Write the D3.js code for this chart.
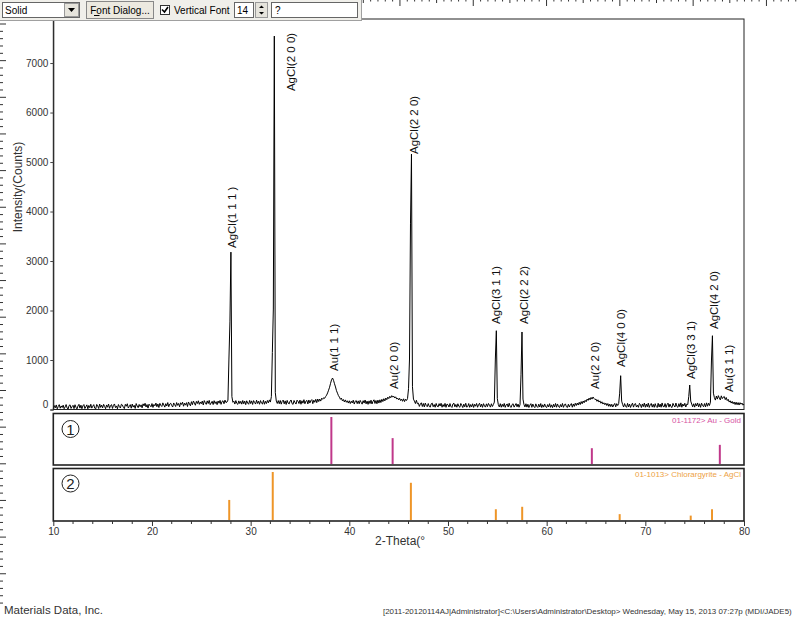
<!DOCTYPE html>
<html><head><meta charset="utf-8">
<script src="https://cdn.jsdelivr.net/npm/d3@7"></script>
<style>
body{margin:0;background:#fff;overflow:hidden;}
svg{display:block;font-family:"Liberation Sans",Arial,sans-serif;}
</style></head><body>
<svg id="chart" width="800" height="617"></svg>
<script>
// ---------------- DATA ----------------
const thetaStart = 10, thetaStep = 0.1;
// measured intensity (counts), one value every 0.1 deg from 10.0 to 80.0
const counts = [
 20, 78, 34, 92, 14, 60, 98, 26, 72, 40,   // 10
 88, 16, 52,100, 30, 10, 80, 94, 22, 58,   // 11
 84, 18, 96, 44, 12, 70,104, 28, 88, 16,   // 12
 74,100, 20, 56, 94, 14, 82, 36,106, 28,   // 13
 66, 98, 26, 12,102, 74, 20,110, 42, 88,   // 14
 32,104, 62, 16, 92, 46,110, 24, 80, 98,   // 15
 22, 86,112, 38, 72, 14,100, 58, 30,106,   // 16
 92, 44, 18,104, 66,116, 30, 60, 98, 26,   // 17
110, 48, 84, 22,120, 70, 36,102, 56, 94,   // 18
 34,114, 72,126, 50,100, 28,108, 80, 54,   // 19
120, 42,102, 74,130, 56,112, 40,124, 82,   // 20
 60,134, 92, 48,118, 70,140, 56,110,126,   // 21
 80, 50,132, 98, 60,140, 84,122, 54,136,   // 22
102,148, 66,128, 88,138, 60,152,112, 74,   // 23
158, 98,172,130, 86,164,120,176,104,152,   // 24
116,170, 92,180,138,104,174,120,184, 98,   // 25
132,166,100,178,120,158, 98,172,126,184,   // 26
104,162,176,116,190,140,150,190,1020,1770, // 27
3180,260,146,168,110,180,122,104,174,120,  // 28
166,108,182,116,170, 98,176,130,106,184,   // 29
120,174,102,180,142,110,188,122,168,106,   // 30
180,128,110,186,106,166,120,182,134,194,   // 31
150,260,1150,2030,7545,340,170,122,180,116,// 32
182,108,166,190,114,174,102,184,130,112,   // 33
170,192,118,104,182,140,110,188,166,120,   // 34
190,106,176,128,198,116,168,184,112,192,   // 35
130,180,200,118,188,146,206,138,212,160,   // 36
210,170,228,206,238,226,262,290,335,390,   // 37
450,530,600,636,590,520,455,380,330,280,   // 38
250,206,230,175,202,152,194,146,176,130,   // 39
176,120,168,132,188,110,166,180,118,174,   // 40
116,184,146,108,178,130,192,114,170,104,   // 41
174,120,188,112,166,196,122,182,116,190,   // 42
130,196,140,206,160,218,174,232,198,250,   // 43
220,266,238,280,250,270,232,256,210,232,   // 44
194,226,180,210,166,216,160,208,182,220,   // 45
420,1020,3750,5160,460,210,170,120,186,116,// 46
128, 62,110,136, 60,122, 52,130, 80, 56,   // 47
120, 62, 48,114,130, 56,100, 46,122, 68,   // 48
 52,118, 70,126, 46,100, 58,124, 44,110,   // 49
 96, 50,120, 62, 42,112,128, 54,102, 46,   // 50
116, 64, 46,122, 82, 40,108, 54,126, 48,   // 51
 60,120, 44,100, 54,116, 42,106, 66,122,   // 52
 46, 98,126, 52,110, 44,118, 70, 48,114,   // 53
 58,122, 86, 48,116, 60,100,150,1020,1592, // 54
220,100, 52,118, 46,106, 58,122, 44, 96,   // 55
112, 50,126, 60, 42,100,116, 48, 84,120,   // 56
 54,110, 46, 96,700,1566,210,100, 52,116,  // 57
 48,106, 40, 88,118, 44,110, 58, 38,114,   // 58
 62, 42,108, 50,120, 40, 96, 48,112, 56,   // 59
 40,100, 52,118, 44, 94, 38,106, 50,122,   // 60
 46,112, 60, 40,100, 52,122, 44, 92,114,   // 61
 56, 40,106, 50, 98,120, 46,112, 62,126,   // 62
 80,130, 90,146,100,160,116,172,136,186,   // 63
156,210,184,230,196,244,210,253,222,200,   // 64
210,166,196,150,174,126,156,110,136, 96,   // 65
128, 80,120, 64,110, 58,106, 50, 94,122,   // 66
 54,118, 80,120,330,683,170,100, 50,120,   // 67
 64, 44,124, 52,110, 42, 92,128, 48,106,   // 68
120, 50, 88, 44,124,100, 40,112, 58,130,   // 69
 46,110, 54,128, 42, 96,122, 48,106, 44,   // 70
118, 60, 40,126, 50,110, 46,132, 62, 52,   // 71
120, 42, 98,128, 48,110, 58, 40,124, 80,   // 72
 50,130, 62, 44,118, 56,134, 46,110, 70,   // 73
126, 50,108,100,260,495,170,110, 54,116,   // 74
 48,122, 70,132, 54,116, 44,128, 80, 56,   // 75
120, 52,134, 66,126, 80,150,980,1491,330,  // 76
240,190,272,210,280,230,194,276,220,250,   // 77
262,200,242,180,206,150,176,130,164,116,   // 78
152,100,148, 96,140, 90,138,106,130, 88,   // 79
110                                        // 80
];

// reference stick patterns
const auTheta = [38.18, 44.39, 64.58, 77.55];
const auRel   = [100, 56, 35, 42];
const agclTheta = [27.83, 32.24, 46.24, 54.85, 57.52, 67.40, 74.60, 76.76];
const agclRel   = [43, 100, 78, 24, 29, 14, 11, 24];

// peak annotations (text, anchor 2-theta, anchor counts)
const peakText   = ["AgCl(1 1 1 )","AgCl(2 0 0)","Au(1 1 1)","Au(2 0 0)","AgCl(2 2 0)","AgCl(3 1 1)","AgCl(2 2 2)","Au(2 2 0)","AgCl(4 0 0)","AgCl(3 3 1)","AgCl(4 2 0)","Au(3 1 1)"];
const peakTheta  = [28.54, 34.50, 38.85, 44.94, 46.96, 55.27, 58.10, 65.27, 67.94, 75.03, 77.37, 78.89];
const peakCounts = [3263, 6434, 778, 414, 5162, 1727, 1727, 414, 859, 616, 1626, 354];

const yTicks = [0, 1000, 2000, 3000, 4000, 5000, 6000, 7000];
const xTicks = [10, 20, 30, 40, 50, 60, 70, 80];
const xMinorTicks = [12, 14, 16, 18, 22, 24, 26, 28, 32, 34, 36, 38, 42, 44, 46, 48, 52, 54, 56, 58, 62, 64, 66, 68, 72, 74, 76, 78];

// ---------------- DRAW ----------------
const svg = d3.select("#chart");
const L = 53.3, R = 744;
const x = d3.scaleLinear().domain([10, 80]).range([L, R]);
const y = d3.scaleLinear().domain([0, 7900]).range([409.5, 18.5]);

const pts = counts.map((c, i) => [thetaStart + i * thetaStep, c]);

// main frame
svg.append("rect").attr("x", L).attr("y", 19).attr("width", R - L).attr("height", 390.5)
  .attr("fill", "none").attr("stroke", "#222").attr("stroke-width", 1);

// trace
svg.append("path").datum(pts)
  .attr("d", d3.line().x(d => x(d[0])).y(d => y(d[1])))
  .attr("fill", "none").attr("stroke", "#000").attr("stroke-width", 1);

// y axis
const yAx = svg.append("g").attr("transform", `translate(${L},0)`)
  .call(d3.axisLeft(y).tickValues(yTicks).tickSize(3).tickPadding(2).tickFormat(d3.format("d")));
yAx.select(".domain").attr("stroke", "#222");
yAx.selectAll(".tick line").attr("stroke", "#444");
yAx.selectAll(".tick text").attr("font-size", 10).attr("fill", "#333")
  .attr("font-family", "Liberation Sans, Arial, sans-serif")
  .attr("dy", d => d === 0 ? "-0.25em" : "0.32em");

svg.append("text").attr("transform", "translate(22,187) rotate(-90)")
  .attr("text-anchor", "middle").attr("font-size", 12).attr("fill", "#333")
  .text("Intensity(Counts)");

// peak labels
svg.append("g").selectAll("text").data(peakText).join("text")
  .attr("transform", (d, i) => `translate(${x(peakTheta[i])},${y(peakCounts[i])}) rotate(-90)`)
  .attr("font-size", 11.5).attr("fill", "#111")
  .text(d => d);

// stick panels
const p1 = {top: 413.5, bottom: 465};
const p2 = {top: 468.5, bottom: 521};
[p1, p2].forEach(p => {
  svg.append("rect").attr("x", L).attr("y", p.top).attr("width", R - L).attr("height", p.bottom - p.top)
    .attr("fill", "#fff").attr("stroke", "#222").attr("stroke-width", 1.6);
});
const h1 = d3.scaleLinear().domain([0, 100]).range([p1.bottom, p1.bottom - 48]);
const h2 = d3.scaleLinear().domain([0, 100]).range([p2.bottom, p2.bottom - 49]);
svg.append("g").selectAll("line").data(auTheta).join("line")
  .attr("x1", d => x(d)).attr("x2", d => x(d))
  .attr("y1", p1.bottom - 1).attr("y2", (d, i) => h1(auRel[i]))
  .attr("stroke", "#c0388a").attr("stroke-width", 2);
svg.append("g").selectAll("line").data(agclTheta).join("line")
  .attr("x1", d => x(d)).attr("x2", d => x(d))
  .attr("y1", p2.bottom - 1).attr("y2", (d, i) => h2(agclRel[i]))
  .attr("stroke", "#ee9528").attr("stroke-width", 2);

svg.append("text").attr("x", 741).attr("y", 423).attr("text-anchor", "end")
  .attr("font-size", 8).attr("fill", "#d653a4").text("01-1172> Au - Gold");
svg.append("text").attr("x", 741).attr("y", 477).attr("text-anchor", "end")
  .attr("font-size", 8).attr("fill", "#eda245").text("01-1013> Chlorargyrite - AgCl");

[[429, "1"], [483.5, "2"]].forEach(([cy, t]) => {
  svg.append("circle").attr("cx", 70.5).attr("cy", cy).attr("r", 8.5)
    .attr("fill", "none").attr("stroke", "#222").attr("stroke-width", 1);
  svg.append("text").attr("x", 70.5).attr("y", cy + 5.5).attr("text-anchor", "middle")
    .attr("font-size", 15).attr("fill", "#222").text(t);
});

// x axis
const xAx = svg.append("g").attr("transform", `translate(0,${p2.bottom})`)
  .call(d3.axisBottom(x).tickValues(xTicks).tickSize(5).tickPadding(2).tickFormat(d3.format("d")));
xAx.select(".domain").remove();
xAx.selectAll(".tick line").attr("stroke", "#333");
xAx.selectAll(".tick text").attr("font-size", 10).attr("fill", "#333")
  .attr("font-family", "Liberation Sans, Arial, sans-serif");
svg.append("g").selectAll("line").data(xMinorTicks).join("line")
  .attr("x1", d => x(d)).attr("x2", d => x(d)).attr("y1", p2.bottom).attr("y2", p2.bottom + 3)
  .attr("stroke", "#333");
svg.append("text").attr("x", 375).attr("y", 545).attr("font-size", 12).attr("fill", "#333")
  .text("2-Theta(°");

// footer
svg.append("text").attr("x", 4).attr("y", 614).attr("font-size", 11.5).attr("fill", "#333")
  .text("Materials Data, Inc.");
svg.append("text").attr("x", 383).attr("y", 614).attr("font-size", 7.95).attr("fill", "#333")
  .text("[2011-20120114AJ|Administrator]<C:\\Users\\Administrator\\Desktop> Wednesday, May 15, 2013 07:27p (MDI/JADE5)");

// rulers
const rul = svg.append("g").attr("stroke", "#333").attr("stroke-width", 1);
d3.range(0, 60).forEach(k => {
  const xx = 363.3 + k * 7.33;
  const len = (k % 10 === 0) ? 3 : (k % 5 === 0 ? 6 : 1.5);
  rul.append("line").attr("x1", xx).attr("x2", xx).attr("y1", 0).attr("y2", len);
});
d3.range(0, 80).forEach(k => {
  const yy = 24 + k * 7.33;
  const len = (k % 5 === 0) ? 6 : 3;
  rul.append("line").attr("x1", 0).attr("x2", len).attr("y1", yy).attr("y2", yy);
});

// toolbar
const tb = svg.append("g").attr("font-size", 10).attr("fill", "#000");
tb.append("rect").attr("x", 0).attr("y", 0).attr("width", 362).attr("height", 21).attr("fill", "#f0efea");
tb.append("line").attr("x1", 0).attr("x2", 362).attr("y1", 20.5).attr("y2", 20.5).attr("stroke", "#a0a0a0");
tb.append("line").attr("x1", 361.5).attr("x2", 361.5).attr("y1", 0).attr("y2", 21).attr("stroke", "#a0a0a0");
// combo
tb.append("rect").attr("x", 2.5).attr("y", 2.5).attr("width", 77).attr("height", 15).attr("fill", "#fff").attr("stroke", "#666");
tb.append("text").attr("x", 5).attr("y", 14).text("Solid");
tb.append("rect").attr("x", 64.5).attr("y", 3.5).attr("width", 14).attr("height", 13).attr("fill", "#e6e4dc").attr("stroke", "#999");
tb.append("path").attr("d", "M68,8 L75,8 L71.5,12 Z").attr("fill", "#000");
// button
tb.append("rect").attr("x", 86.5).attr("y", 1.5).attr("width", 67).attr("height", 17).attr("fill", "#ece9e0").attr("stroke", "#888");
tb.append("text").attr("x", 120).attr("y", 14).attr("text-anchor", "middle").text("Font Dialog...");
tb.append("line").attr("x1", 94).attr("x2", 99.5).attr("y1", 15.5).attr("y2", 15.5).attr("stroke", "#000");
// checkbox
tb.append("rect").attr("x", 160.5).attr("y", 5.5).attr("width", 9).attr("height", 9).attr("fill", "#fff").attr("stroke", "#333");
tb.append("path").attr("d", "M162,9.5 L164.5,12 L168,7").attr("fill", "none").attr("stroke", "#000").attr("stroke-width", 1.6);
tb.append("text").attr("x", 174).attr("y", 14).text("Vertical Font");
// spin
tb.append("rect").attr("x", 234.5).attr("y", 2.5).attr("width", 19).attr("height", 15).attr("fill", "#fff").attr("stroke", "#666");
tb.append("text").attr("x", 237).attr("y", 14).text("14");
tb.append("rect").attr("x", 255.5).attr("y", 2.5).attr("width", 12).attr("height", 15).attr("fill", "#e6e4dc").attr("stroke", "#999");
tb.append("path").attr("d", "M259,8 L264,8 L261.5,5.5 Z M259,12 L264,12 L261.5,14.5 Z").attr("fill", "#000");
// text box
tb.append("rect").attr("x", 271.5).attr("y", 2.5).attr("width", 86).attr("height", 15).attr("fill", "#fff").attr("stroke", "#666");
tb.append("text").attr("x", 275).attr("y", 14).text("?");
</script>
</body></html>
